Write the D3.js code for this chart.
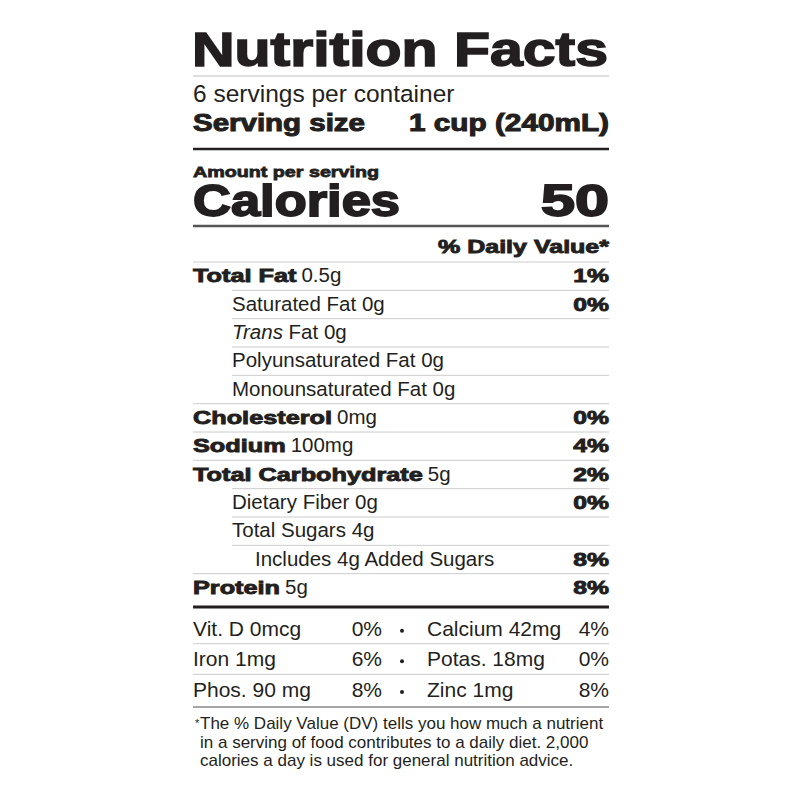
<!DOCTYPE html><html><head><meta charset="utf-8">
<script src="https://cdn.jsdelivr.net/npm/d3@7"></script>
<style>body{margin:0;background:#fff}</style></head><body>
<script>
const nutrients = ["Total Fat","Saturated Fat","Trans Fat","Polyunsaturated Fat","Monounsaturated Fat","Cholesterol","Sodium","Total Carbohydrate","Dietary Fiber","Total Sugars","Includes 4g Added Sugars","Protein"];
const amounts = ["0.5g","0g","0g","0g","0g","0mg","100mg","5g","0g","4g","",  "5g"];
const dvPercent = ["1%","0%","","","","0%","4%","2%","0%","","8%","8%"];
const indentLevel = [0,1,1,1,1,0,0,0,1,1,2,0];
const vitLeft = ["Vit. D 0mcg","Iron 1mg","Phos. 90 mg"];
const vitLeftPct = ["0%","6%","8%"];
const vitRight = ["Calcium 42mg","Potas. 18mg","Zinc 1mg"];
const vitRightPct = ["4%","0%","8%"];
const footnote = ["The % Daily Value (DV) tells you how much a nutrient","in a serving of food contributes to a daily diet. 2,000","calories a day is used for general nutrition advice."];

const F = "'Liberation Sans', Arial, sans-serif";
const svg = d3.select("body").append("svg").attr("width",800).attr("height",800);
const L = 193, R = 609, WIDE = 1.3;
function line(y,w,c){svg.append("line").attr("x1",L).attr("x2",R).attr("y1",y).attr("y2",y).attr("stroke",c).attr("stroke-width",w);}
function txt(x,y,s,size,bold,anchor){const t=svg.append("text").attr("x",x).attr("y",y).attr("font-family",F).attr("font-size",size).attr("fill","#231f20").attr("text-anchor",anchor||"start").text(s);if(bold){t.attr("font-weight","bold").attr("stroke","#231f20").attr("stroke-width",bold);}return t;}
function wide(t,f){const w=t.node().getComputedTextLength()*(f||WIDE);t.attr("textLength",w).attr("lengthAdjust","spacingAndGlyphs");return w;}

txt(L-1,66,"Nutrition Facts",49,1.6).attr("textLength",416).attr("lengthAdjust","spacingAndGlyphs");
line(76,1,"#bbb");
txt(L,102,"6 servings per container",24.5);
txt(L,131,"Serving size",23,1).attr("textLength",172).attr("lengthAdjust","spacingAndGlyphs");
txt(R,131,"1 cup (240mL)",23,1,"end").attr("textLength",200).attr("lengthAdjust","spacingAndGlyphs");
line(149,2.5,"#231f20");
txt(L,177,"Amount per serving",15.5,0.8).attr("textLength",186).attr("lengthAdjust","spacingAndGlyphs");
txt(L,216,"Calories",44,1.8).attr("textLength",207).attr("lengthAdjust","spacingAndGlyphs");
txt(R,216,"50",44,1.8,"end").attr("textLength",68).attr("lengthAdjust","spacingAndGlyphs");
line(226,2.5,"#555");
txt(R,253,"% Daily Value*",18.5,0.9,"end").attr("textLength",171).attr("lengthAdjust","spacingAndGlyphs");
line(262,1,"#ccc");

const y = d3.scaleBand().domain(d3.range(nutrients.length)).range([262,602]);
const xIndent = d3.scaleLinear().domain([0,2]).range([L,255]);
const xLine = d3.scaleLinear().domain([0,1]).range([L,232]);
nutrients.forEach((n,i)=>{
  const by = y(i)+y.bandwidth()-8;
  const lvl = indentLevel[i];
  const x = lvl===1?232:xIndent(lvl);
  if(lvl===0){
    const b = txt(x,by,n,19,0.9);
    const w = wide(b,1.33);
    txt(x+w+5,by,amounts[i],20.5);
  } else if(n==="Trans Fat"){
    const t = svg.append("text").attr("x",x).attr("y",by).attr("font-family",F).attr("font-size",20.5).attr("fill","#231f20");
    t.append("tspan").attr("font-style","italic").text("Trans");
    t.append("tspan").text(" Fat "+amounts[i]);
  } else {
    txt(x,by,n+(amounts[i]?" "+amounts[i]:""),20.5);
  }
  if(dvPercent[i]) wide(txt(R,by,dvPercent[i],19,0.9,"end"),1.3);
  if(i<nutrients.length-1){
    const ly=y(i)+y.bandwidth();
    const ind = (indentLevel[i]>0 && indentLevel[i+1]>0) || indentLevel[i+1]>0 ? 1 : 0;
    svg.append("line").attr("x1",xLine(ind)).attr("x2",R).attr("y1",ly).attr("y2",ly).attr("stroke","#ccc");
  }
});
line(607,3,"#231f20");

const vy = d3.scaleBand().domain(d3.range(vitLeft.length)).range([613,705]);
vitLeft.forEach((v,i)=>{
  const by = vy(i)+vy.bandwidth()-8;
  txt(L,by,v,21);
  txt(382,by,vitLeftPct[i],21,0,"end");
  svg.append("circle").attr("cx",402).attr("cy",by-5).attr("r",2).attr("fill","#231f20");
  txt(427,by,vitRight[i],21);
  txt(R,by,vitRightPct[i],21,0,"end");
  if(i<vitLeft.length-1) line(vy(i)+vy.bandwidth(),1,"#ccc");
});
line(707,1.5,"#888");
txt(L+2,727,"*",11);
footnote.forEach((f,i)=>txt(L+7,729+i*18.5,f,17));
</script></body></html>
